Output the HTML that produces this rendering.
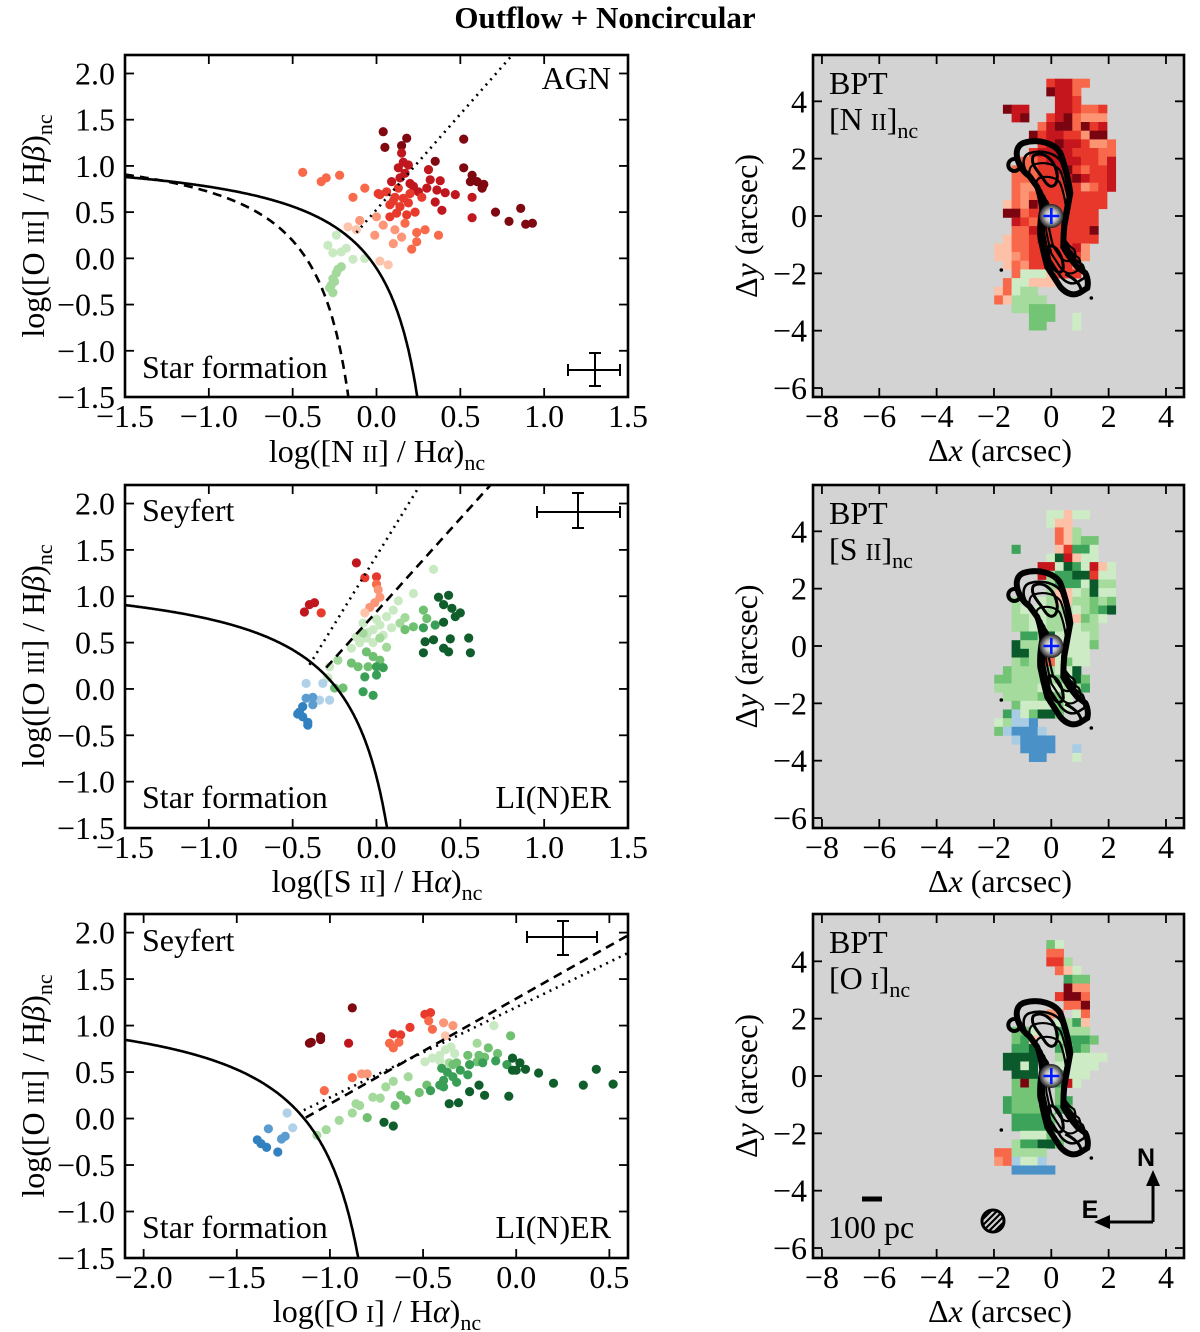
<!DOCTYPE html>
<html><head><meta charset="utf-8"><style>
html,body{margin:0;padding:0;background:#fff;}
svg{display:block;font-family:"Liberation Serif","DejaVu Serif",serif;}
</style></head><body>
<svg id="fig" xmlns="http://www.w3.org/2000/svg" width="1200" height="1332" viewBox="0 0 1200 1332">
<defs>
<radialGradient id="glow"><stop offset="0" stop-color="#ffffff"/><stop offset="0.5" stop-color="#bdbdbd"/><stop offset="1" stop-color="#222"/></radialGradient>
<clipPath id="cl0"><rect x="125" y="55" width="503" height="342"/></clipPath>
<clipPath id="cl1"><rect x="125" y="485" width="503" height="343"/></clipPath>
<clipPath id="cl2"><rect x="125" y="914" width="503" height="344"/></clipPath>
<clipPath id="hc"><circle cx="993" cy="1221" r="10"/></clipPath>
</defs>
<text x="605" y="28" text-anchor="middle" font-size="31" font-weight="bold">Outflow + Noncircular</text>
</svg>
<script>
// ---------- data ----------
const p1x=[0.04,0.18,0.05,0.15,0.52,0.35,0.52,0.57,0.56,0.60,0.64,0.63,0.71,0.79,0.86,0.89,0.93,
0.57,0.57,0.15,0.16,0.13,0.19,0.09,0.14,0.31,0.32,0.38,0.41,0.47,0.36,0.30,0.25,0.20,0.35,0.39,0.17,0.22,
0.06,0.02,0.11,0.16,0.19,0.14,0.08,0.12,0.23,0.18,0.08,0.01,0.10,0.20,0.27,0.13,
0.29,0.37,0.24,0.21,0.24,0.17,-0.07,-0.14,-0.44,-0.33,-0.30,-0.22,
-0.10,0.00,0.04,-0.01,0.11,0.15,0.10,
-0.17,-0.12,0.02,0.07,
-0.24,-0.29,-0.26,-0.21,-0.18,-0.14,-0.07,
-0.21,-0.24,-0.26,-0.27,-0.26,-0.28,-0.23,-0.25];
const p1y=[1.37,1.30,1.20,1.22,1.29,1.05,0.98,0.90,0.83,0.83,0.80,0.76,0.50,0.40,0.54,0.37,0.38,
0.66,0.44,1.14,1.04,0.98,1.01,0.83,0.87,0.96,0.85,0.84,0.71,0.69,0.74,0.76,0.72,0.81,0.61,0.52,0.92,0.78,
0.72,0.69,0.66,0.65,0.60,0.56,0.58,0.49,0.50,0.47,0.45,0.70,0.62,0.70,0.66,0.76,
0.31,0.25,0.18,0.10,0.28,0.38,0.76,0.66,0.93,0.83,0.87,0.90,
0.41,0.45,0.36,0.25,0.31,0.23,0.16,
0.34,0.31,-0.03,-0.07,
0.25,0.14,0.06,0.07,0.11,-0.01,0.00,
-0.09,-0.16,-0.22,-0.29,-0.37,-0.32,-0.12,-0.25];
const p1c="DDDDDDDDDDDDDDDDD"+"RRRRRRRRRRRRRRRRRRRRR"+"rrrrrrrrrrrrrrrr"+"oooooooooooo"+"ppppppp"+"qqqq"+"hhhhhhh"+"gggggggg";

const p2x=[-0.12,-0.43,-0.40,-0.37,-0.33,-0.07,0.0,0.00,0.01,0.02,-0.01,-0.04,-0.07,
-0.08,-0.05,-0.10,-0.15,0.02,0.06,0.10,0.13,0.22,0.34,-0.02,-0.12,-0.28,-0.29,0.04,0.09,-0.02,0.0,-0.06,
-0.23,0.14,0.17,0.02,-0.08,0.06,
-0.06,-0.02,0.02,-0.05,-0.15,-0.11,-0.20,-0.25,0.17,0.22,0.28,0.30,
0.00,0.04,-0.07,0.00,-0.08,-0.02,0.28,0.35,
0.37,0.43,0.40,0.45,0.40,0.47,0.50,0.29,0.34,0.44,0.55,0.28,0.40,0.43,0.56,
-0.42,-0.32,-0.34,-0.28,
-0.42,-0.38,-0.38,-0.44,-0.46,-0.47,-0.44,-0.41,-0.41];
const p2y=[1.36,0.83,0.91,0.93,0.82,1.20,1.21,1.13,1.07,0.99,0.93,0.88,0.82,
0.71,0.61,0.50,0.44,0.69,0.78,0.85,0.95,1.03,1.29,0.50,0.56,0.24,0.12,0.58,0.66,0.64,0.75,0.55,
0.31,0.71,0.77,0.55,0.60,0.45,
0.40,0.35,0.31,0.24,0.28,0.24,0.01,0.01,0.64,0.67,0.85,0.76,
0.24,0.23,0.13,0.15,-0.03,-0.07,0.66,0.69,
0.99,1.01,0.91,0.87,0.72,0.78,0.82,0.51,0.53,0.54,0.55,0.39,0.44,0.40,0.39,
0.06,0.06,-0.12,-0.12,
-0.10,-0.09,-0.17,-0.19,-0.25,-0.27,-0.30,-0.36,-0.39];
const p2c="RRRR"+"rrr"+"o"+"pppp"+"q"+"hhhhhhhhhhhhhhhhhhh"+"gggggg"+"GGGGGGGGGGGG"+"MMMMMMMM"+"KKKKKKKKKKKKKKK"+"cccc"+"bbbBBBBBB";

const p3x=[-0.88,-1.11,-1.10,-1.05,-1.05,-0.90,
-0.66,-0.62,-0.49,-0.46,-0.57,
-0.68,-0.63,-0.66,-0.47,-0.45,-1.03,-0.88,
-0.39,-0.34,-0.83,-0.80,-0.38,
-1.23,-1.20,
-1.33,-1.24,-1.26,-1.39,-1.37,-1.34,-1.28,
-0.49,-0.45,-0.41,-0.38,-0.35,-0.33,-0.12,-0.41,
-1.07,-1.02,-0.95,-0.88,-0.86,-0.84,-0.77,-0.73,-0.70,-0.66,-0.58,-0.21,-0.36,
-0.80,-0.65,-0.62,-0.59,-0.52,-0.48,-0.34,-0.32,-0.26,-0.20,-0.15,-0.10,-0.03,-0.21,-0.17,
-0.46,-0.41,-0.39,-0.40,-0.37,-0.30,-0.34,-0.26,-0.25,-0.18,-0.11,-0.39,-0.32,-0.05,
-0.71,-0.66,-0.25,-0.20,-0.17,-0.36,-0.31,-0.04,-0.02,-0.02,0.02,0.00,0.05,0.12,0.20,0.36,0.43,0.52];
const p3y=[1.19,0.81,0.82,0.88,0.85,0.81,
0.91,0.90,1.12,1.14,0.98,
0.81,0.82,0.76,1.05,0.96,0.30,0.44,
1.03,1.00,0.48,0.48,0.89,
0.06,-0.10,
-0.11,-0.19,-0.22,-0.23,-0.27,-0.31,-0.36,
0.61,0.65,0.68,0.74,0.77,0.70,1.00,0.62,
-0.18,-0.12,-0.02,0.06,0.16,0.14,0.23,0.22,0.34,0.40,0.45,0.81,0.60,
0.01,0.14,0.25,0.20,0.28,0.36,0.58,0.60,0.68,0.68,0.76,0.70,0.89,0.61,0.66,
0.30,0.36,0.41,0.54,0.50,0.52,0.45,0.47,0.58,0.60,0.62,0.34,0.39,0.58,
-0.04,-0.08,0.29,0.36,0.25,0.16,0.17,0.24,0.65,0.52,0.60,0.52,0.53,0.49,0.38,0.36,0.53,0.37];
const p3c="DDDDDR"+"rrrrr"+"ooooooo"+"ppppq"+"cc"+"bbbBBBB"+"hhhhhhhh"+"ggggggggggggg"+"GGGGGGGGGGGGGGG"+"MMMMMMMMMMMMMM"+"KKKKKKKKKKKKKKKKKK";

const map1=["......rRRoo....","......DRRo.....",".......RRr.....",".DRR...RRroor..","..RD..rRDoppp..",".....oRDDoDrR..","....DrRRrrpDD..",".....rRDRRrppo.","....rRRRRrrroo.","...oorRRRRrroR.","..ooorrRDrorrR.","..ooorrrRDRrrR.","..opprrrrrporR.","..oporrrorrrr..",".qopDrrrrrrrr..",".DDorrrrrrrr...","..Rrorrrrrrr...","..ooRrrrrrrD...",".qoorRrrrrrr...","qqoorrrrrRp....","qqporrrrrrp....",".qoprrrrrp.....","..ohhhqrrr.....",".ohhqqq........","qohgg..........","oqgggg.........","..ggGGG........","....GGG..h.....","....GG...h....."];
const map2=["......hhqhh....","......hqq......",".......oqg.....",".......oqgGG...","..M....qrMMh...","......hKRqhh...",".....RRhKMhRqh.",".....RgMMKKrhh.","......gMMMhKgg.","......gqqhgKhh.","..g..hgqqggGgG.","..ghhhggghgGMK.","..gghhgghqGgh..","..gghhgghhgg...","...MMgKhhhhg...","..KgggghhhhG...","..KKghhhhhh....","..gGgoohGhh....",".GggggghhK.....","GGgggggGhKG....","ggggghhhggM....",".ggggGGGh......","..GhhhhGh......",".MchGKKG.......","hgccb..........","Gcbbbc.........","..cbbbb........","...bbbb..c.....","....bb...h....."];
const map3=["......Gh.......","......oo.......","......rrg......",".......oqh.....","........MGG....","........Dpp....",".......rDDo....","........ooD....","......pp.ho....",".......hgMq....","..GGh..Mggg....","..GMq..gMMMG...","..MMK..MhMG....",".KKKK..ghhhhh..",".KKhK..hhhhh...","..KKK..Mhhh....","..GDG..MRh.....","..GGG..G.......",".MGGG..GM......",".MGGGG.MG......","..MMMMG........","..MMMMG........","...hhhG........","..gMMKKG.......","oogggg.........","pochhc.........","..bbbbb........"];

const xTicksA=[-1.5,-1.0,-0.5,0.0,0.5,1.0,1.5];
const xTicksC=[-2.0,-1.5,-1.0,-0.5,0.0,0.5];
const yTicks=[-1.5,-1.0,-0.5,0.0,0.5,1.0,1.5,2.0];
const rxTicks=[-8,-6,-4,-2,0,2,4];
const ryTicks=[-6,-4,-2,0,2,4];

const COL={D:'#7f0811',R:'#c0161d',r:'#e83a2c',o:'#f86a4a',p:'#fc9678',q:'#fdc3ab',h:'#c9e9c2',g:'#a4d99c',G:'#6fc071',M:'#3a9f56',K:'#0f5e2c',c:'#b0d1e8',b:'#5a9ccf',B:'#3180bf'};
const MCOL={D:'#7a0510',R:'#c4161c',r:'#e8382b',o:'#f7694a',p:'#fc9373',q:'#fdc1a8',g:'#a5db9d',h:'#cdebc5',G:'#74c476',M:'#3da35a',K:'#0b5a2b',b:'#4a91c8',c:'#a7cce4'};

// ---------- helpers ----------
const NS='http://www.w3.org/2000/svg';
const svg=document.getElementById('fig');
function mk(tag,attrs,parent){const e=document.createElementNS(NS,tag);for(const k in attrs)e.setAttribute(k,attrs[k]);(parent||svg).appendChild(e);return e;}
function fmt(v,d){let s=v.toFixed(d);if(v<0)s='\u2212'+s.slice(1);return s;}

const FS=32;
const L=[{top:55,bot:397,xmin:-1.5,xmax:1.5,xt:xTicksA},{top:485,bot:828,xmin:-1.5,xmax:1.5,xt:xTicksA},{top:914,bot:1258,xmin:-2.1,xmax:0.6,xt:xTicksC}];
const LX0=125,LX1=628;
function X(p,v){return LX0+(v-p.xmin)/(p.xmax-p.xmin)*(LX1-LX0);}
function Y(p,v){return p.top+(2.2-v)/3.7*(p.bot-p.top);}

function curve(p,f,x0,x1,g,dash,name){
  let d='';for(let x=x0;x<=x1+1e-9;x+=0.005){const y=f(x);if(!isFinite(y))continue;const yy=Math.max(-3,y);d+=(d?'L':'M')+X(p,x).toFixed(1)+','+Y(p,yy).toFixed(1);}
  const e=mk('path',{d:d,fill:'none',stroke:'#000','stroke-width':2.6,'stroke-dasharray':dash||'none'},g);
  
  
}
function line(p,xa,ya,xb,yb,g,dash,name){
  const e=mk('line',{x1:X(p,xa),y1:Y(p,ya),x2:X(p,xb),y2:Y(p,yb),stroke:'#000','stroke-width':2.6,'stroke-dasharray':dash},g);
  
  
}
function txt(x,y,s,size,anchor,name,g){
  const e=mk('text',{x:x,y:y,'font-size':size,'text-anchor':anchor||'start'},g);e.textContent=s;
  
  
  return e;
}
function errbar(cx,cy,x0,x1,y0,y1){
  const g=mk('g',{stroke:'#000','stroke-width':2});
  
  
  mk('line',{x1:x0,y1:cy,x2:x1,y2:cy},g);mk('line',{x1:cx,y1:y0,x2:cx,y2:y1},g);
  mk('line',{x1:x0,y1:cy-6,x2:x0,y2:cy+6},g);mk('line',{x1:x1,y1:cy-6,x2:x1,y2:cy+6},g);
  mk('line',{x1:cx-6,y1:y0,x2:cx+6,y2:y0},g);mk('line',{x1:cx-6,y1:y1,x2:cx+6,y2:y1},g);
}
function richLabel(x,y,parts,rot,name){
  const t=mk('text',{x:x,y:y,'font-size':FS,'text-anchor':'middle',transform:rot?`rotate(-90 ${x} ${y})`:''});
  
  
  parts.forEach(pt=>{const s=mk('tspan',pt.a||{},t);s.textContent=pt.t;});
  return t;
}
function lineLabelParts(ion,num,den){
  return [{t:'log(['+ion+' '},{t:num,a:{'font-size':24}},{t:'] / H'},{t:den,a:{'font-style':'italic'}},{t:')'},{t:'nc',a:{'font-size':22,dy:8}}];
}

// ---------- left panels ----------
const pts=[[p1x,p1y,p1c],[p2x,p2y,p2c],[p3x,p3y,p3c]];
L.forEach((p,i)=>{
  const g=mk('g',{});
  
  
  const cg=mk('g',{'clip-path':`url(#cl${i})`},g);
  const [xs,ys,cs]=pts[i];
  for(let k=0;k<xs.length;k++){
    const c=mk('circle',{cx:X(p,xs[k]).toFixed(1),cy:Y(p,ys[k]).toFixed(1),r:4.6,fill:COL[cs[k]]||'#888'},cg);
    
    
  }
  if(i===0){
    curve(p,x=>0.61/(x-0.47)+1.19,-1.5,0.44,cg,null,'kewley-curve');
    curve(p,x=>0.61/(x-0.05)+1.3,-1.5,0.03,cg,'9,6','kauffmann-curve');
    line(p,-0.12,0.28,0.81,2.2,cg,'2,5','agn-liner-line');
  }else if(i===1){
    curve(p,x=>0.72/(x-0.32)+1.30,-1.5,0.30,cg,null,'kewley-curve');
    line(p,-0.40,0.26,0.26,2.2,cg,'2,5','seyfert-liner-line-dotted');
    line(p,-0.30,0.23,0.68,2.2,cg,'9,6','seyfert-liner-line-dashed');
  }else{
    curve(p,x=>0.73/(x+0.59)+1.33,-2.1,-0.61,cg,null,'kewley-curve');
    line(p,-1.14,0.09,0.6,1.78,cg,'2,5','seyfert-liner-line-dotted');
    line(p,-1.13,0.01,0.6,1.97,cg,'9,6','seyfert-liner-line-dashed');
  }
  const fr=mk('rect',{x:LX0,y:p.top,width:LX1-LX0,height:p.bot-p.top,fill:'none',stroke:'#000','stroke-width':2.6},g);
  
  
  const tg=mk('g',{stroke:'#000','stroke-width':1.8},g);
  
  
  p.xt.forEach(v=>{const x=X(p,v);mk('line',{x1:x,y1:p.bot,x2:x,y2:p.bot-9},tg);mk('line',{x1:x,y1:p.top,x2:x,y2:p.top+9},tg);
    txt(x,p.bot+30,fmt(v,1),FS,'middle','x-tick-label',g);});
  yTicks.forEach(v=>{const y=Y(p,v);mk('line',{x1:LX0,y1:y,x2:LX0+9,y2:y},tg);mk('line',{x1:LX1,y1:y,x2:LX1-9,y2:y},tg);
    txt(115,y+11,fmt(v,1),FS,'end','y-tick-label',g);});
});
richLabel(377,462,lineLabelParts('N','II','\u03b1'),false,'x-axis-title-nii');
richLabel(377,892,lineLabelParts('S','II','\u03b1'),false,'x-axis-title-sii');
richLabel(377,1322,lineLabelParts('O','I','\u03b1'),false,'x-axis-title-oi');
[226,656,1086].forEach((cy,i)=>richLabel(44,cy,lineLabelParts('O','III','\u03b2'),true,'y-axis-title-oiii-'+(i+1)));

txt(611,89,'AGN',FS,'end','agn-label');
txt(142,378,'Star formation',FS,'start','star-formation-label');
txt(142,521,'Seyfert',FS,'start','seyfert-label');
txt(142,808,'Star formation',FS,'start','star-formation-label');
txt(611,808,'LI(N)ER',FS,'end','liner-label');
txt(142,951,'Seyfert',FS,'start','seyfert-label');
txt(142,1238,'Star formation',FS,'start','star-formation-label');
txt(611,1238,'LI(N)ER',FS,'end','liner-label');
errbar(595,370,568,620,353,386);
errbar(578,512,537,620,493,528);
errbar(563,937,527,597,921,955);

// ---------- right panels ----------
const R=[{top:55,bot:397,z:216,y0:4.79,map:map1,ion:'N',num:'II'},{top:485,bot:828,z:646,y0:4.74,map:map2,ion:'S',num:'II'},{top:914,bot:1258,z:1076,y0:4.74,map:map3,ion:'O',num:'I'}];
const RX0=813,RX1=1184,SC=28.67,OX=1051.3,CELL=0.3024,GX0=-1.99;
function RX(v){return OX+SC*v;}
const OUT='M-28,-73 C-40,-68 -34,-48 -22,-40 L-14,-29 C-10,-18 -9,-6 -9,-6 C-12,8 -11,21 -11,21 C-8,36 -4,51 -4,51 L9,71 C15,78 22,80 28,77 L36,72 C38,64 34,57 34,57 L26,51 C18,42 12,31 12,31 C12,20 13,10 13,10 C16,-6 19,-23 19,-23 C16,-45 9,-63 9,-63 C4,-72 -12,-78 -28,-73Z';
R.forEach((p,i)=>{
  const RY=v=>p.z-SC*v;
  const g=mk('g',{});
  
  
  const bg=mk('rect',{x:RX0,y:p.top,width:RX1-RX0,height:p.bot-p.top,fill:'#d3d3d3'},g);
  
  
  p.map.forEach((row,r)=>{for(let c=0;c<row.length;c++){const ch=row[c];if(ch==='.')continue;
    const cell=mk('rect',{x:RX(GX0+c*CELL).toFixed(1),y:RY(p.y0-r*CELL).toFixed(1),width:(SC*CELL+0.4).toFixed(2),height:(SC*CELL+0.4).toFixed(2),fill:MCOL[ch]},g);
    
    }});
  // contours
  const cx=OX, cy=p.z;
  const cg=mk('g',{transform:`translate(${cx},${cy})`,fill:'none',stroke:'#000'},g);
  
  
  mk('path',{d:OUT,'stroke-width':6},cg);
  mk('path',{d:OUT,'stroke-width':3,transform:'translate(2,0) scale(0.86)'},cg);
  mk('path',{d:OUT,'stroke-width':3,transform:'translate(3,1) scale(0.72)'},cg);
  mk('path',{d:OUT,'stroke-width':4,transform:'translate(4,2) scale(0.55)'},cg);
  mk('circle',{cx:-37,cy:-51,r:6,'stroke-width':4},cg);
  mk('path',{d:'M-18,-60 C-10,-66 4,-58 6,-40 C6,-30 0,-26 -6,-34 C-12,-44 -22,-52 -18,-60Z','stroke-width':3},cg);
  mk('path',{d:'M-2,30 C4,28 12,40 12,52 C10,60 2,56 -1,46 C-3,38 -4,32 -2,30Z','stroke-width':3},cg);
  mk('path',{d:'M14,58 C22,62 30,68 30,76','stroke-width':3},cg);
  mk('circle',{cx:0,cy:0,r:12,fill:'url(#glow)',stroke:'none'},cg);
  const cr=mk('path',{d:'M-8,0 H8 M0,-8 V8',stroke:'#0019ff','stroke-width':2.6},cg);
  
  
  mk('circle',{cx:-50,cy:54,r:1.8,fill:'#000',stroke:'none'},cg);
  mk('circle',{cx:40,cy:82,r:1.8,fill:'#000',stroke:'none'},cg);
  const fr=mk('rect',{x:RX0,y:p.top,width:RX1-RX0,height:p.bot-p.top,fill:'none',stroke:'#000','stroke-width':2.6},g);
  
  
  const tg=mk('g',{stroke:'#000','stroke-width':1.8},g);
  
  
  rxTicks.forEach(v=>{const x=RX(v);mk('line',{x1:x,y1:p.bot,x2:x,y2:p.bot-9},tg);mk('line',{x1:x,y1:p.top,x2:x,y2:p.top+9},tg);
    txt(x,p.bot+30,fmt(v,0),FS,'middle','x-tick-label',g);});
  ryTicks.forEach(v=>{const y=RY(v);mk('line',{x1:RX0,y1:y,x2:RX0+9,y2:y},tg);mk('line',{x1:RX1,y1:y,x2:RX1-9,y2:y},tg);
    txt(807,y+11,fmt(v,0),FS,'end','y-tick-label',g);});
  txt(829,p.top+39,'BPT',FS,'start','map-title',g);
  const t2=mk('text',{x:829,y:p.top+75,'font-size':FS},g);
  
  
  [['['+p.ion+' ',{}],[p.num,{'font-size':24}],[']',{}],['nc',{'font-size':22,dy:8}]].forEach(a=>{const s=mk('tspan',a[1],t2);s.textContent=a[0];});
  const xl=mk('text',{x:1000,y:p.bot+64,'font-size':FS,'text-anchor':'middle'},g);
  
  
  [['\u0394',{}],['x',{'font-style':'italic'}],[' (arcsec)',{}]].forEach(a=>{const s=mk('tspan',a[1],xl);s.textContent=a[0];});
  const ym=(p.top+p.bot)/2;
  const yl=mk('text',{x:757,y:ym,'font-size':FS,'text-anchor':'middle',transform:`rotate(-90 757 ${ym})`},g);
  
  
  [['\u0394',{}],['y',{'font-style':'italic'}],[' (arcsec)',{}]].forEach(a=>{const s=mk('tspan',a[1],yl);s.textContent=a[0];});
});

// scale bar, beam, compass
const sb=mk('line',{x1:862,y1:1199,x2:882,y2:1199,stroke:'#000','stroke-width':5});


txt(828,1238,'100 pc',FS,'start','scale-bar-label');
const beam=mk('g',{});


const hg=mk('g',{'clip-path':'url(#hc)',stroke:'#000','stroke-width':2.2},beam);
for(let k=-3;k<=3;k++){mk('line',{x1:993-15+k*6,y1:1221+15,x2:993+15+k*6,y2:1221-15},hg);}
mk('circle',{cx:993,cy:1221,r:11,fill:'none',stroke:'#000','stroke-width':3},beam);
const cp=mk('g',{stroke:'#000','stroke-width':3,fill:'#000'});


mk('line',{x1:1153,y1:1222,x2:1153,y2:1184},cp);
mk('polygon',{points:'1146,1186 1160,1186 1153,1170','stroke-width':0},cp);
mk('line',{x1:1153,y1:1222,x2:1108,y2:1222},cp);
mk('polygon',{points:'1110,1215 1110,1229 1094,1222','stroke-width':0},cp);
const nt=txt(1146,1166,'N',25,'middle','compass-north');nt.setAttribute('font-family','"Liberation Sans",sans-serif');nt.setAttribute('font-weight','bold');
const et=txt(1090,1218,'E',25,'middle','compass-east');et.setAttribute('font-family','"Liberation Sans",sans-serif');et.setAttribute('font-weight','bold');
</script>
</body></html>
